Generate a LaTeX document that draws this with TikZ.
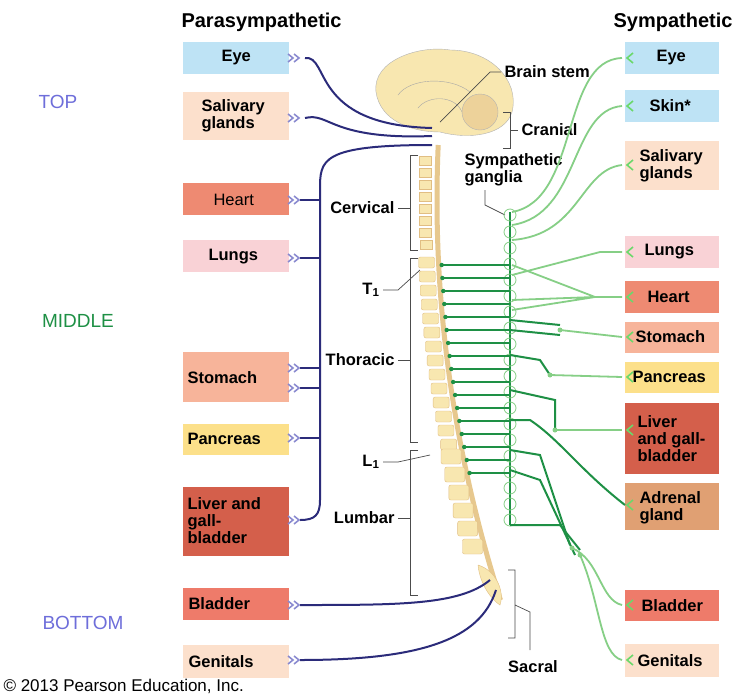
\documentclass[tikz,border=0pt]{standalone}
\usepackage{fontspec}
\setmainfont{Liberation Sans}
\begin{document}
\begin{tikzpicture}[x=1pt,y=-1pt,
 box/.style={draw=none,fill=#1,anchor=north west,inner sep=3pt,font=\bfseries\fontsize{15}{15}\selectfont,align=left},
 lbl/.style={font=\bfseries\fontsize{16.5}{17}\selectfont,align=left},
 para/.style={draw=navy,line width=2pt},
 pre/.style={draw=dgreen,line width=2pt},
 post/.style={draw=lgreen,line width=1.8pt},
 brk/.style={draw=black!70,line width=0.7pt}]
\definecolor{navy}{HTML}{2B2B7A}\definecolor{dgreen}{HTML}{1E9045}\definecolor{lgreen}{HTML}{86CF86}
\definecolor{cblue}{HTML}{BEE3F5}\definecolor{cpeach}{HTML}{FCE0CC}\definecolor{csalmon}{HTML}{EE8A72}
\definecolor{cpink}{HTML}{F9D2D6}\definecolor{cstom}{HTML}{F7B49A}\definecolor{cyel}{HTML}{FCE08A}
\definecolor{cliver}{HTML}{D45F4B}\definecolor{cblad}{HTML}{EE7B6A}\definecolor{cadr}{HTML}{E0A073}
\definecolor{bone}{HTML}{F8E7B0}\definecolor{lav}{HTML}{8A8AD0}
\useasboundingbox (0,0) rectangle (747,697);
\fill[white] (0,0) rectangle (747,697);
% headers
\node[lbl,font=\bfseries\fontsize{20}{20}\selectfont,anchor=west] (hp) at (178,22) {Parasympathetic};
\node[lbl,font=\bfseries\fontsize{20}{20}\selectfont,anchor=west] (hs) at (610,22) {Sympathetic};
\node[text=lav!80!blue,font=\fontsize{19}{19}\selectfont] (top) at (58,102) {TOP};
\node[text=dgreen,font=\fontsize{19}{19}\selectfont] (mid) at (78,321) {MIDDLE};
\node[text=lav!80!blue,font=\fontsize{19}{19}\selectfont] (bot) at (83,623) {BOTTOM};
\node[anchor=west,font=\fontsize{17}{17}\selectfont] (copy) at (0,686) {\textcopyright\ 2013 Pearson Education, Inc.};
% left boxes
\node[box=cblue,minimum width=106pt,minimum height=32pt] (le) at (183,42) {};
\node[lbl,anchor=west] at (218,58) {Eye};
\node[box=cpeach,minimum width=106pt,minimum height=48pt] (ls) at (183,92) {};
\node[lbl,anchor=west] at (198,116) {Salivary\\glands};
\node[box=csalmon,minimum width=106pt,minimum height=32pt] (lh) at (183,183) {};
\node[anchor=west,font=\fontsize{16.5}{17}\selectfont] at (210,200) {Heart};
\node[box=cpink,minimum width=106pt,minimum height=32pt] (ll) at (183,240) {};
\node[lbl,anchor=west] at (205,257) {Lungs};
\node[box=cstom,minimum width=106pt,minimum height=50pt] (lst) at (183,352) {};
\node[lbl,anchor=west] at (184,378) {Stomach};
\node[box=cyel,minimum width=106pt,minimum height=31pt] (lp) at (183,424) {};
\node[lbl,anchor=west] at (184,439) {Pancreas};
\node[box=cliver,minimum width=106pt,minimum height=69pt] (lli) at (183,487) {};
\node[lbl,anchor=west] at (184,521) {Liver and\\gall-\\bladder};
\node[box=cblad,minimum width=106pt,minimum height=32pt] (lb) at (183,588) {};
\node[lbl,anchor=west] at (185,604) {Bladder};
\node[box=cpeach,minimum width=106pt,minimum height=33pt] (lg) at (183,645) {};
\node[lbl,anchor=west] at (185,662) {Genitals};
% right boxes
\node[box=cblue,minimum width=94pt,minimum height=32pt] (re) at (625,42) {};
\node[lbl,anchor=west] at (653,58) {Eye};
\node[box=cblue,minimum width=94pt,minimum height=32pt] (rsk) at (625,90) {};
\node[lbl,anchor=west] at (646,106) {Skin*};
\node[box=cpeach,minimum width=94pt,minimum height=49pt] (rs) at (625,141) {};
\node[lbl,anchor=west] at (636,166) {Salivary\\glands};
\node[box=cpink,minimum width=94pt,minimum height=32pt] (rl) at (625,236) {};
\node[lbl,anchor=west] at (641,252) {Lungs};
\node[box=csalmon,minimum width=94pt,minimum height=32pt] (rh) at (625,281) {};
\node[lbl,anchor=west] at (644,297) {Heart};
\node[box=cstom,minimum width=94pt,minimum height=31pt] (rst) at (625,322) {};
\node[lbl,anchor=west] at (632,337) {Stomach};
\node[box=cyel,minimum width=94pt,minimum height=31pt] (rp) at (625,362) {};
\node[lbl,anchor=west] at (629,377) {Pancreas};
\node[box=cliver,minimum width=94pt,minimum height=71pt] (rli) at (625,403) {};
\node[lbl,anchor=west] at (634,439) {Liver\\and gall-\\bladder};
\node[box=cadr,minimum width=94pt,minimum height=47pt] (ra) at (625,483) {};
\node[lbl,anchor=west] at (636,508) {Adrenal\\gland};
\node[box=cblad,minimum width=94pt,minimum height=31pt] (rb) at (625,590) {};
\node[lbl,anchor=west] at (638,606) {Bladder};
\node[box=cpeach,minimum width=94pt,minimum height=33pt] (rg) at (625,644) {};
\node[lbl,anchor=west] at (634,661) {Genitals};
% brain
\fill[bone,draw=black!30] (376,92) .. controls (372,60) and (420,45) .. (450,50) .. controls (490,50) and (520,80) .. (512,112)
 .. controls (505,135) and (470,140) .. (440,132) .. controls (410,132) and (380,120) .. (376,92) -- cycle;
\draw[black!35] (398,95) .. controls (410,78) and (450,76) .. (470,92);
\draw[black!35] (418,108) .. controls (428,95) and (455,95) .. (462,112);
\fill[bone!80!brown,draw=black!30] (480,112) circle (18);
% spine
\draw[bone!70!brown,line width=5pt] plot[domain=145:600,samples=40,smooth] ({437+0.0004*(\x-200)*(\x-200)},\x);
\foreach \y in {160,172,...,250} \fill[bone,draw=bone!60!brown] ({425+0.0004*(\y-200)*(\y-200)-6},\y-4) rectangle ++(12,9);
\foreach \y in {262,276,...,444} \fill[bone,draw=bone!60!brown,rounded corners=2pt] ({425+0.0004*(\y-200)*(\y-200)-8},\y-5) rectangle ++(16,11);
\foreach \y in {456,474,...,546} \fill[bone,draw=bone!60!brown,rounded corners=2pt] ({425+0.0004*(\y-200)*(\y-200)-10},\y-7) rectangle ++(20,15);
\fill[bone,draw=bone!60!brown] (478,565) .. controls (495,570) and (505,590) .. (500,605) .. controls (492,600) and (480,585) .. (478,565);
% labels & brackets
\node[lbl,anchor=west] (bs) at (501,72) {Brain stem};
\draw[brk] (bs.west) -- (490,72) -- (440,122);
\node[lbl,anchor=west] (cr) at (518,130) {Cranial};
\draw[brk] (503,112) -- (510,112) -- (510,148) -- (503,148) (510,130) -- (cr.west);
\node[lbl,anchor=west] (sg) at (461,170) {Sympathetic\\ganglia};
\draw[brk] (485,190) -- (485,205) -- (505,215);
\node[lbl,anchor=east] (cv) at (398,208) {Cervical};
\draw[brk] (cv.east) -- (410,208) (418,155) -- (410,155) -- (410,250) -- (418,250);
\node[lbl,anchor=east] (t1) at (383,290) {T\textsubscript{1}};
\draw[brk] (t1.east) -- (398,290) -- (420,270);
\node[lbl,anchor=east] (th) at (398,360) {Thoracic};
\draw[brk] (th.east) -- (410,360) (418,258) -- (410,258) -- (410,442) -- (418,442);
\node[lbl,anchor=east] (l1) at (383,462) {L\textsubscript{1}};
\draw[brk] (l1.east) -- (398,462) -- (430,455);
\node[lbl,anchor=east] (lu) at (398,518) {Lumbar};
\draw[brk] (lu.east) -- (410,518) (418,450) -- (410,450) -- (410,595) -- (418,595);
\node[lbl] (sa) at (533,667) {Sacral};
\draw[brk] (508,570) -- (515,570) -- (515,638) -- (508,638) (515,605) -- (530,612) -- (530,650);
% parasympathetic
\draw[para] (305,58) .. controls (330,55) and (310,125) .. (432,128);
\draw[para] (305,118) .. controls (330,112) and (330,140) .. (432,136);
\draw[para] (432,145) .. controls (320,145) and (320,160) .. (320,190) -- (320,500) .. controls (320,515) and (315,520) .. (300,520);
\draw[para] (300,200) -- (320,200) (300,258) -- (320,258) (300,368) -- (320,368) (300,388) -- (320,388) (300,438) -- (320,438);
\draw[para] (300,605) .. controls (400,605) and (460,605) .. (490,580);
\draw[para] (300,660) .. controls (420,660) and (480,640) .. (496,590);
\foreach \y in {58,118,200,258,368,388,438,520,605,660}
 \draw[lav,line width=1.6pt] (288,\y-4) -- (293,\y) -- (288,\y+4) (294,\y-4) -- (299,\y) -- (294,\y+4);
% sympathetic chain
\draw[dgreen,line width=1.5pt] (510,212) -- (510,525);
\foreach \y in {215,232,248,...,520} \draw[lgreen,line width=0.8pt] (510,\y) circle (6);
\foreach \y in {265,278,...,473} {
 \draw[pre] ({437+0.0004*(\y-200)*(\y-200)+3},\y) -- (510,\y);
 \fill[dgreen] ({437+0.0004*(\y-200)*(\y-200)+3},\y) circle (2.2);}
% collateral branches
\draw[pre] (510,320) -- (560,325);
\draw[pre] (510,330) -- (560,335);
\draw[pre] (510,355) -- (540,360) -- (550,375);
\draw[pre] (510,390) -- (555,400) -- (555,430);
\draw[pre] (510,420) -- (530,420) .. controls (560,440) and (580,470) .. (625,505);
\draw[pre] (510,450) -- (540,455) -- (570,545);
\draw[pre] (510,470) -- (540,480) -- (575,555);
\draw[pre] (510,525) -- (560,525) -- (580,550);
% postganglionic
\draw[post] (512,212) .. controls (580,200) and (560,60) .. (622,58);
\draw[post] (512,225) .. controls (580,215) and (570,110) .. (622,106);
\draw[post] (512,240) .. controls (580,235) and (580,170) .. (622,165);
\draw[post] (512,275) -- (600,252) -- (622,252);
\draw[post] (512,265) -- (595,297) (512,300) -- (595,297) (512,310) -- (595,297) -- (622,297);
\draw[post] (560,330) -- (622,337);
\draw[post] (550,375) -- (622,377);
\draw[post] (555,430) -- (622,430);
\draw[post] (572,548) .. controls (600,560) and (600,600) .. (622,605);
\draw[post] (580,555) .. controls (600,600) and (600,655) .. (622,660);
\foreach \p in {(560,330),(550,375),(555,430),(572,548),(580,555)} \fill[lgreen] \p circle (2.5);
\foreach \y in {58,106,165,252,297,337,377,430,505,605,660}
 \draw[lgreen!80!green,line width=1.6pt] (633,\y-5) -- (627,\y) -- (633,\y+5);
\end{tikzpicture}
\end{document}
